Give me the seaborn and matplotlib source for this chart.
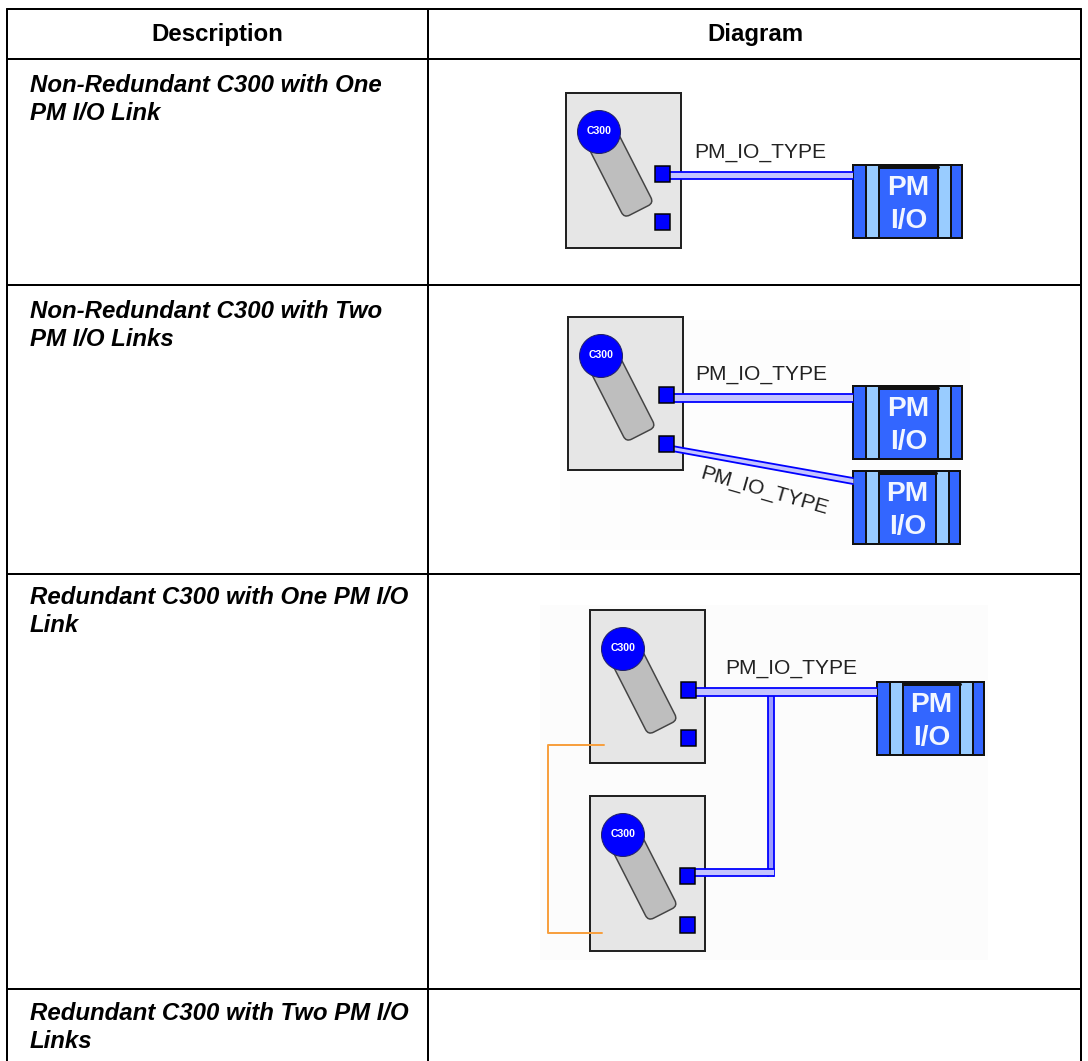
import matplotlib
matplotlib.use("Agg")
import matplotlib.pyplot as plt
import seaborn as sns
import pandas as pd
from matplotlib.patches import Rectangle, Circle, FancyBboxPatch
from matplotlib.transforms import Affine2D

W, H = 1088, 1061
headers = ["Description", "Diagram"]
descriptions = [
    "Non-Redundant C300 with One\nPM I/O Link",
    "Non-Redundant C300 with Two\nPM I/O Links",
    "Redundant C300 with One PM I/O\nLink",
    "Redundant C300 with Two PM I/O\nLinks",
]
desc_y = [86, 311, 598, 1014]
grid_h = [9, 59, 285, 574, 989]
grid_v = [7, 428, 1081]
link_label = "PM_IO_TYPE"
# controller box: left, top, height ; ports (top y's, left x)
controllers = [
    (566, 93, 155, 655, [166, 214]),
    (568, 317, 153, 659, [387, 436]),
    (590, 610, 153, 681, [682, 730]),
    (590, 796, 155, 680, [868, 917]),
]
pm_boxes = [(853, 165, 109), (853, 386, 109), (853, 471, 107), (877, 682, 107)]
links = [
    ([670, 853], [172, 172], [179, 179]),
    ([672, 853], [394, 394], [402, 402]),
    ([672, 853], [446, 478], [451, 484]),
    ([695, 877], [688, 688], [696, 696]),
    ([695, 774], [869, 869], [876, 876]),
]
link_v = ([768, 768], [774, 774], [696, 876])
orange_x = [604, 548, 548, 602]
orange_y = [745, 745, 933, 933]
labels = [(760, 152, 0), (761.5, 375, 0), (764, 491, -16), (791.5, 669, 0)]

sns.set_theme(style="white")
plt.rcParams["font.family"] = ["Liberation Sans", "DejaVu Sans"]
fig = plt.figure(figsize=(W / 72, H / 72), dpi=72)
ax = fig.add_axes([0, 0, 1, 1])
ax.set_axis_off()
BLUE, MID, LIGHT = "#0000FF", "#3366FF", "#99CCFF"


def line(x, y, color="black", lw=2.0, z=3):
    d = pd.DataFrame({"x": x, "y": y})
    sns.lineplot(data=d, x="x", y="y", sort=False, estimator=None, color=color,
                 linewidth=lw, ax=ax, zorder=z, legend=False)


def controller(x, y, h, px, ports):
    ax.add_patch(Rectangle((x, y), 115, h, fc="#E6E6E6", ec="#222222", lw=2, zorder=2))
    cx, cy = x + 33, y + 39
    tr = Affine2D().rotate_deg(63).translate(cx, cy) + ax.transData
    ax.add_patch(FancyBboxPatch((0, -16.5), 88, 33, boxstyle="round,pad=0,rounding_size=6",
                                fc="#BEBEBE", ec="#444444", lw=1.5, transform=tr, zorder=3))
    ax.add_patch(Circle((cx, cy), 21.5, fc=BLUE, ec="#222266", lw=1, zorder=4))
    ax.text(cx, cy - 1, "C300", color="white", fontsize=10.5, fontweight="bold",
            ha="center", va="center", zorder=5)
    for py in ports:
        ax.add_patch(Rectangle((px, py), 15, 16, fc=BLUE, ec="black", lw=1.5, zorder=6))


def pm_box(x, y, w):
    h = 73
    ax.add_patch(Rectangle((x, y), w, h, fc=MID, ec="#111111", lw=2, zorder=2))
    r = x + w
    for bx in (x + 14, r - 23):
        ax.add_patch(Rectangle((bx, y + 1), 11, h - 2, fc=LIGHT, ec="none", zorder=3))
    for vx in (x + 13, x + 26, r - 24, r - 11):
        line([vx, vx], [y, y + h], "#111111", 2, 4)
    line([x + 26, r - 24], [y + 1.5, y + 1.5], "#111111", 3, 4)
    c = (x + 26 + r - 24) / 2
    ax.text(c, y + 23, "PM", color="#F2F6FF", fontsize=28, fontweight="bold", ha="center", va="center", zorder=5)
    ax.text(c, y + 56, "I/O", color="#F2F6FF", fontsize=28, fontweight="bold", ha="center", va="center", zorder=5)


def link(x, y1, y2):
    ax.fill_between(x, y1, y2, color="#C4C4FF", lw=0, zorder=3)
    line(x, y1, BLUE, 1.8, 3)
    line(x, y2, BLUE, 1.8, 3)


# faint image backgrounds
ax.add_patch(Rectangle((540, 605), 448, 355, fc="#FCFCFC", ec="none", zorder=0))
ax.add_patch(Rectangle((560, 320), 410, 230, fc="#FDFDFD", ec="none", zorder=0))

for x, y1, y2 in links:
    link(x, y1, y2)
ax.fill_betweenx(link_v[2], link_v[0], link_v[1], color="#9C9CFF", lw=0, zorder=1)
line(link_v[0], link_v[2], BLUE, 1.8, 2)
line(link_v[1], link_v[2], BLUE, 1.8, 2)
line(orange_x, orange_y, "#F7A040", 2, 7)

for c in controllers:
    controller(*c)
for p in pm_boxes:
    pm_box(*p)
for lx, ly, rot in labels:
    ax.text(lx, ly, link_label, fontsize=21, color="#222222", ha="center", va="center",
            rotation=rot, rotation_mode="anchor", zorder=5)

# table grid
for gy in grid_h:
    line([grid_v[0], grid_v[-1]], [gy, gy], "black", 2, 8)
for gx in grid_v:
    line([gx, gx], [grid_h[0], H], "black", 2, 8)

for cx, t in zip([217, 755], headers):
    ax.text(cx, 34, t, fontsize=24, fontweight="bold", ha="center", va="center", color="black", zorder=9)
for y, t in zip(desc_y, descriptions):
    first, second = t.split("\n")
    ax.text(30, y, first, fontsize=24, fontweight="bold", fontstyle="italic", ha="left", va="center", color="black", zorder=9)
    ax.text(30, y + 28, second, fontsize=24, fontweight="bold", fontstyle="italic", ha="left", va="center", color="black", zorder=9)

ax.set_xlim(0, W)
ax.set_ylim(H, 0)
fig.savefig("out.png", dpi=72, facecolor="white")
